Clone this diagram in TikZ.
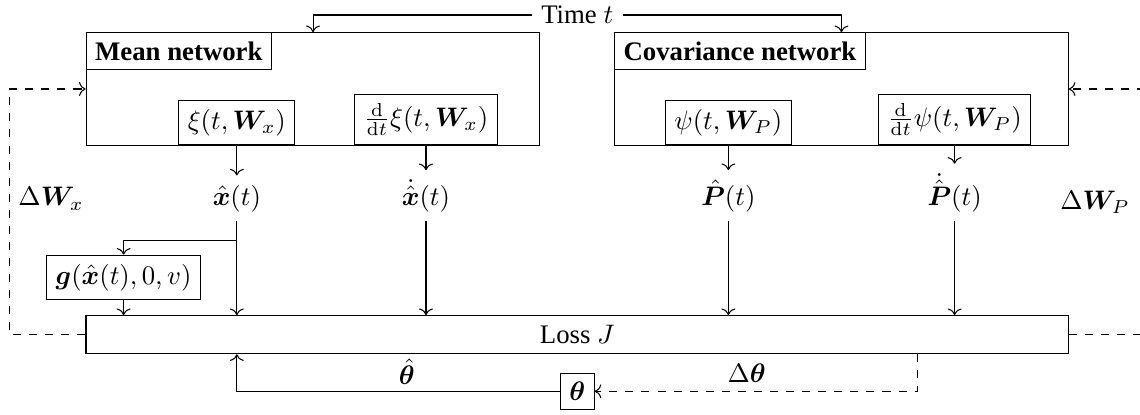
\documentclass[tikz,border=0pt]{standalone}
\usepackage[no-math]{fontspec}
\setmainfont{Liberation Serif}
\usepackage{amsmath}
\usepackage{bm}
\usetikzlibrary{arrows.meta,positioning,calc}

\begin{document}
\begin{tikzpicture}[
      font=\normalsize,
      net/.style={draw, minimum width=5.953cm, minimum height=1.478cm},
      title/.style={draw, anchor=north west, font=\bfseries},
      fn/.style={draw, anchor=south},
      sig/.style={anchor=base},
      lossbox/.style={draw, minimum width=12.893cm, minimum height=0.499cm},
      arrow/.style={->},
      fb/.style={->, dashed}
    ]
    \useasboundingbox (0,0) rectangle (14.96,-5.433);
    \clip (0,0) rectangle (14.96,-5.433);

    % Networks
    \node (time) at (7.575,-0.197) {Time $t$};
    \node[net] (mean) at (4.108,-1.168) {};
    \node[net] (cov)  at (11.042,-1.168) {};
    \node[title] (meanlbl) at (mean.north west) {Mean network};
    \node[title] (covlbl)  at (cov.north west) {Covariance network};
    \node[fn] (xi)   at (3.108,-1.907)  {$\xi(t,\bm{W}_x)$};
    \node[fn] (dxi)  at (5.590,-1.907)  {$\frac{\mathrm{d}}{\mathrm{d}t}\xi(t,\bm{W}_x)$};
    \node[fn] (psi)  at (9.558,-1.907)  {$\psi(t,\bm{W}_P)$};
    \node[fn] (dpsi) at (12.527,-1.907) {$\frac{\mathrm{d}}{\mathrm{d}t}\psi(t,\bm{W}_P)$};

    \draw[arrow] (time.west) -| (mean.north);
    \draw[arrow] (time.east) -| (cov.north);

    % Outputs
    \node[sig] (xhat) at (3.108,-2.69)  {$\hat{\bm{x}}(t)$};
    \node[sig] (xdot) at (5.590,-2.69)  {$\dot{\hat{\bm{x}}}(t)$};
    \node[sig] (phat) at (9.558,-2.69)  {$\hat{\bm{P}}(t)$};
    \node[sig] (pdot) at (12.527,-2.69) {$\dot{\hat{\bm{P}}}(t)$};
    \node[sig] (dwx)  at (0.669,-2.703) {$\Delta\bm{W}_x$};
    \node[sig] (dwp)  at (14.37,-2.743) {$\Delta\bm{W}_P$};

    \draw[arrow] (xi) -- (xhat);
    \draw[arrow] (dxi) -- (xdot);
    \draw[arrow] (psi) -- (phat);
    \draw[arrow] (dpsi) -- (pdot);

    % Loss
    \node[draw] (g) at (1.622,-3.642) {$\bm{g}(\hat{\bm{x}}(t),0,v)$};
    \node[lossbox] (loss) at (7.575,-4.392) {Loss $J$};
    \node[draw] (theta) at (7.575,-5.135) {$\bm{\theta}$};
    \node (thhat) at (5.337,-4.882) {$\hat{\bm{\theta}}$};
    \node (dth)   at (9.799,-4.899) {$\Delta\bm{\theta}$};

    \coordinate (split) at (3.108,-3.15);
    \draw[arrow] (split) -| (g.north);
    \draw[arrow] (g) -- (g |- loss.north);
    \draw[arrow] (xhat) -- (xhat |- loss.north);
    \draw[arrow] (xdot) -- (xdot |- loss.north);
    \draw[arrow] (phat) -- (phat |- loss.north);
    \draw[arrow] (pdot) -- (pdot |- loss.north);
    \draw[arrow] (theta.west) -| (loss.south -| xhat);

    % Feedback
    \draw[fb] ($(loss.south)+(4.468,0)$) |- (theta.east);
    \draw[fb] (loss.west) -- ++(-0.997,0) |- (mean.west);
    \draw[fb] (loss.east) -- ++(0.997,0) |- (cov.east);
  \end{tikzpicture}
\end{document}
